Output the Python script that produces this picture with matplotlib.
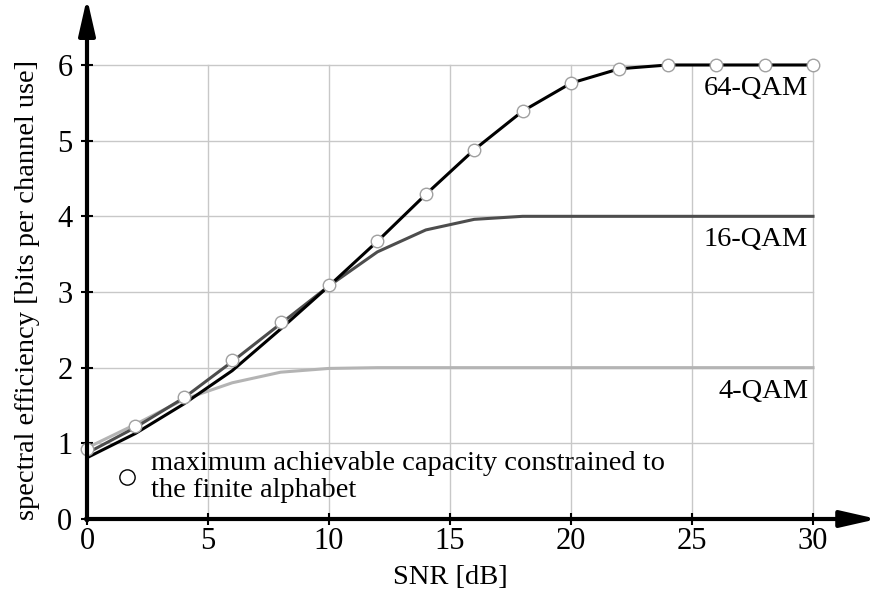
import numpy as np
import matplotlib
matplotlib.use("Agg")
import matplotlib.pyplot as plt

plt.rcParams['font.family'] = ['Liberation Serif', 'DejaVu Serif']

# SNR grid (dB), 2 dB steps
snr = [0, 2, 4, 6, 8, 10, 12, 14, 16, 18, 20, 22, 24, 26, 28, 30]

# spectral efficiency curves [bits per channel use]
qam4 = [0.94, 1.25, 1.58, 1.80, 1.94, 1.99, 2.0, 2.0, 2.0, 2.0, 2.0, 2.0, 2.0, 2.0, 2.0, 2.0]
qam16 = [0.87, 1.21, 1.60, 2.08, 2.58, 3.08, 3.53, 3.82, 3.96, 4.0, 4.0, 4.0, 4.0, 4.0, 4.0, 4.0]
qam64 = [0.81, 1.13, 1.52, 1.96, 2.51, 3.08, 3.67, 4.29, 4.88, 5.39, 5.76, 5.95, 6.0, 6.0, 6.0, 6.0]
# max achievable capacity constrained to the finite alphabet
cap_max = [0.92, 1.23, 1.61, 2.10, 2.60, 3.09, 3.67, 4.29, 4.88, 5.39, 5.76, 5.95, 6.0, 6.0, 6.0, 6.0]

curve_labels = ['4-QAM', '16-QAM', '64-QAM']
curve_levels = [2, 4, 6]
xticks = [0, 5, 10, 15, 20, 25, 30]
yticks = [0, 1, 2, 3, 4, 5, 6]

fig = plt.figure(figsize=(8.71, 5.94), dpi=100)
ax = fig.add_axes([87 / 871, 1 - 519 / 594, (870 - 87) / 871, (519 - 4) / 594])
ax.set_xlim(0, (870 - 87) / 24.2)
ax.set_ylim(0, (519 - 4) / 75.67)

# grid limited to the data area
for xv in xticks[1:]:
    ax.plot([xv, xv], [0, 6], color='#c8c8c8', lw=1.0, zorder=1)
for yv in yticks[1:]:
    ax.plot([0, 30], [yv, yv], color='#c8c8c8', lw=1.0, zorder=1)

ax.plot(snr, qam4, color='#b4b4b4', lw=2.2, zorder=3)
ax.plot(snr, qam16, color='#4d4d4d', lw=2.2, zorder=4)
ax.plot(snr, qam64, color='black', lw=2.2, zorder=5)
ax.plot(snr, cap_max, ls='none', marker='o', ms=9, mfc='white', mec='#a0a0a0',
        mew=1.0, zorder=6, clip_on=False)

for lab, lev in zip(curve_labels, curve_levels):
    ax.text(29.8, lev - 0.31, lab, ha='right', va='center', fontsize=20.5, zorder=7)

# legend
ax.plot([1.65], [0.55], ls='none', marker='o', ms=11, mfc='white', mec='black', mew=1.0)
ax.text(2.65, 0.55, 'maximum achievable capacity constrained to\nthe finite alphabet',
        ha='left', va='center', fontsize=20.5, linespacing=1.1)

# axes with arrows
for s in ax.spines.values():
    s.set_visible(False)
xmax = ax.get_xlim()[1]
ymax = ax.get_ylim()[1]
ax.annotate('', xy=(xmax + 0.3, 0), xytext=(-0.05, 0),
            arrowprops=dict(arrowstyle='-|>,head_length=2.2,head_width=0.5', color='black', lw=3,
                            shrinkA=0, shrinkB=0), annotation_clip=False, zorder=8)
ax.annotate('', xy=(0, ymax + 0.08), xytext=(0, -0.02),
            arrowprops=dict(arrowstyle='-|>,head_length=2.2,head_width=0.5', color='black', lw=3,
                            shrinkA=0, shrinkB=0), annotation_clip=False, zorder=8)

ax.set_xticks(xticks)
ax.set_yticks(yticks)
ax.tick_params(direction='inout', length=9, width=1.5, labelsize=22)
ax.tick_params(axis='x', pad=1)
ax.tick_params(axis='y', pad=6)

fig.text(450 / 871, 1 - 578 / 594, 'SNR [dB]', ha='center', va='center', fontsize=20.5)
fig.text(28 / 871, 1 - 290 / 594, 'spectral efficiency [bits per channel use]',
         ha='center', va='center', rotation=90, fontsize=20.5)

fig.savefig('out.png', dpi=100)
